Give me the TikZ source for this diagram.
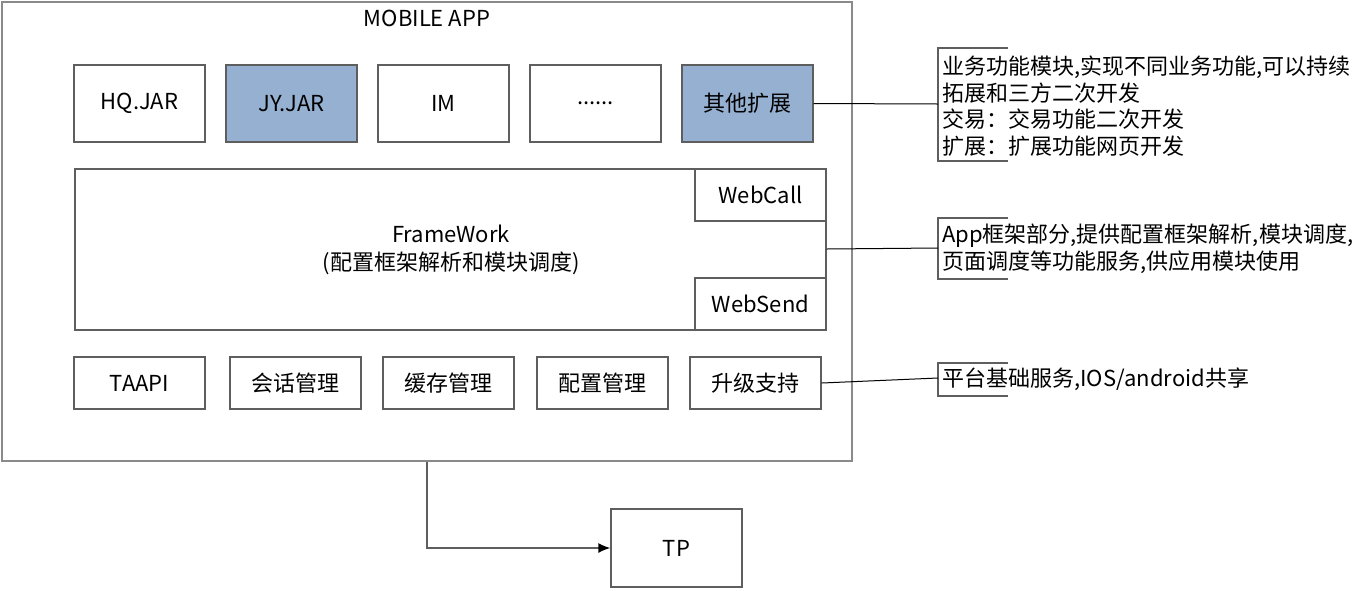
\documentclass[tikz,border=0pt]{standalone}
\usepackage{fontspec}
\setmainfont{Noto Sans CJK SC}
\usetikzlibrary{arrows.meta}
\definecolor{boxfill}{HTML}{95B0D0}
\definecolor{edge}{HTML}{5E5E5E}
\definecolor{outeredge}{HTML}{8A8A8A}
\tikzset{
  box/.style={draw=edge, line width=1.4pt, fill=white, inner sep=0pt, font=\fontsize{22}{26}\selectfont},
  toprow/.style={box, minimum width=131pt, minimum height=77pt},
  botrow/.style={box, minimum width=131pt, minimum height=52pt},
  webbox/.style={box, minimum width=131pt, minimum height=52pt},
  hl/.style={fill=boxfill},
  note/.style={align=left, inner sep=0pt, anchor=west, font=\fontsize{22}{26.7}\selectfont},
  bracket/.style={draw=edge, line width=1.2pt},
  link/.style={draw=black, line width=1pt},
}
\begin{document}
\begin{tikzpicture}[x=1pt,y=-1pt]
\useasboundingbox (0,0) rectangle (1364,590);
% outer app box
\node[draw=outeredge, line width=1.4pt, minimum width=850pt, minimum height=459pt, inner sep=0pt] (app) at (427,231.5) {};
\node[font=\fontsize{22}{26}\selectfont, inner sep=0pt] (apptitle) at (427,18) {MOBILE APP};
% top row
\node[toprow] (hq) at (139.5,103.5) {HQ.JAR};
\node[toprow,hl] (jy) at (291.5,103.5) {JY.JAR};
\node[toprow] (im) at (443.5,103.5) {IM};
\node[toprow] (dots) at (595.5,103.5) {......};
\node[toprow,hl] (ext) at (747.5,103.5) {其他扩展};
% framework
\node[box, minimum width=751pt, minimum height=161pt] (fw) at (450.5,249.5) {};
\node[font=\fontsize{22}{28}\selectfont, align=center, inner sep=0pt] (fwtext) at (451,250) {FrameWork\\(配置框架解析和模块调度)};
\node[webbox] (webcall) at (760.5,195) {WebCall};
\node[webbox] (websend) at (760.5,304) {WebSend};
% bottom row
\node[botrow] (taapi) at (139.5,383) {TAAPI};
\node[botrow] (hh) at (295.5,383) {会话管理};
\node[botrow] (hc) at (448.5,383) {缓存管理};
\node[botrow] (pz) at (602.5,383) {配置管理};
\node[botrow] (sj) at (755.5,383) {升级支持};
% TP
\node[box, minimum width=131pt, minimum height=78pt] (tp) at (676.5,548) {TP};
\draw[draw=edge, line width=1.4pt, -{Latex[length=12pt,width=10pt,color=black]}] (app.south) |- (tp.west);
% annotations
\coordinate (b1) at (938,104);
\draw[bracket] (1008,48) -- (938,48) -- (938,161) -- (1008,161);
\node[note] (n1) at (942,106) {业务功能模块,实现不同业务功能,可以持续\\拓展和三方二次开发\\交易：交易功能二次开发\\扩展：扩展功能网页开发};
\draw[link] (ext.east) -- (b1);
\coordinate (b2) at (938,248);
\draw[bracket] (1008,218) -- (938,218) -- (938,279) -- (1008,279);
\node[note] (n2) at (942,249) {App框架部分,提供配置框架解析,模块调度,\\页面调度等功能服务,供应用模块使用};
\draw[link] (fw.east |- 0,249) -- (b2);
\coordinate (b3) at (938,378);
\draw[bracket] (1008,363) -- (938,363) -- (938,396) -- (1008,396);
\node[note] (n3) at (942,379) {平台基础服务,IOS/android共享};
\draw[link] (sj.east) -- (b3);
\end{tikzpicture}
\end{document}
